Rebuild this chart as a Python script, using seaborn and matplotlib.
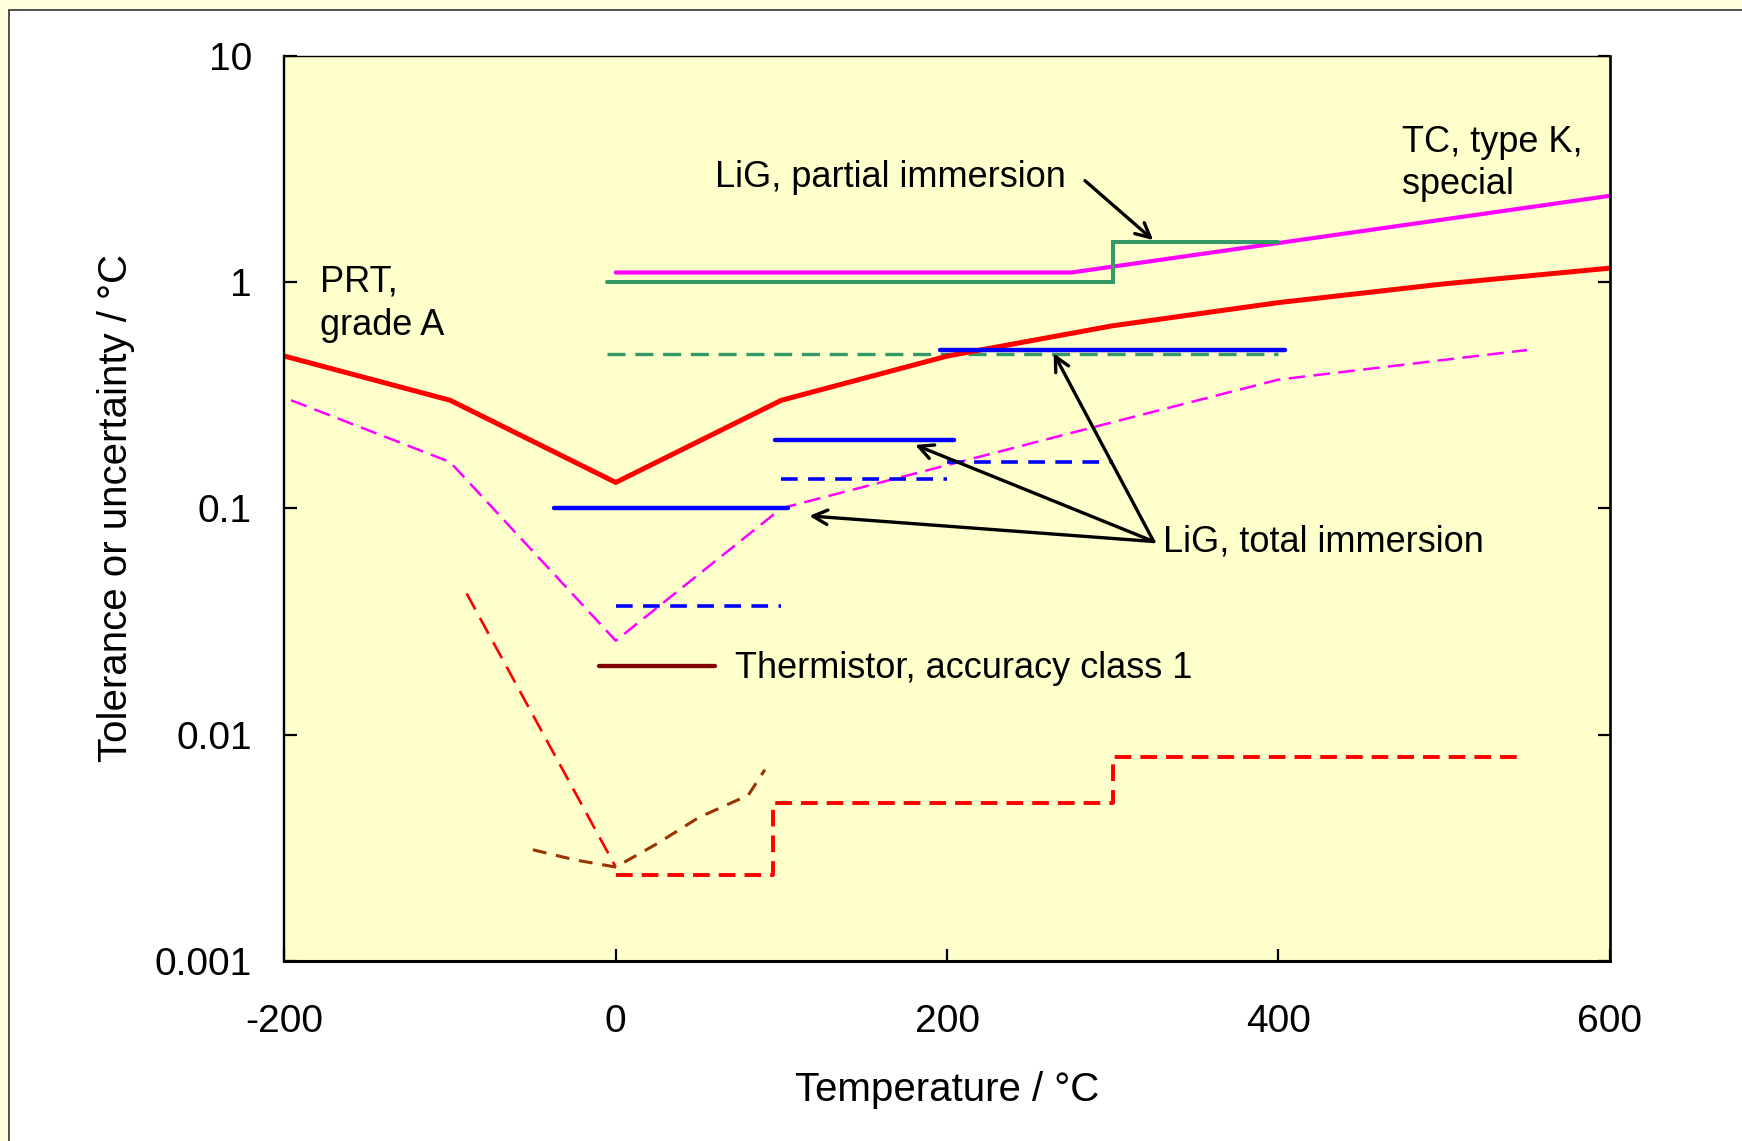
import matplotlib
matplotlib.use("Agg")
import matplotlib.pyplot as plt
import seaborn as sns
import pandas as pd
from matplotlib.patches import Rectangle
from matplotlib.ticker import FixedLocator, FixedFormatter, NullLocator

# ---------------- data ----------------
prt_t = [-200, -100, 0, 100, 200, 300, 400, 500, 600]
prt_tol = [0.47, 0.30, 0.13, 0.30, 0.47, 0.64, 0.81, 0.98, 1.15]

prt_unc_t = [-90, 0]
prt_unc = [0.042, 0.0026]
prt_cal_t = [0, 95, 95, 300, 300, 548]
prt_cal = [0.0024, 0.0024, 0.005, 0.005, 0.008, 0.008]

tc_t = [0, 275, 600]
tc_tol = [1.1, 1.1, 2.4]
tc_unc_t = [-196, -100, 0, 100, 200, 300, 400, 550]
tc_unc = [0.30, 0.16, 0.026, 0.10, 0.155, 0.24, 0.37, 0.50]

lig_part_t = [-5, 300, 300, 400]
lig_part_tol = [1.0, 1.0, 1.5, 1.5]
lig_part_unc_t = [-5, 400]
lig_part_unc = [0.48, 0.48]

lig_tot_start = [-37, 96, 196]
lig_tot_end = [104, 204, 404]
lig_tot_tol = [0.1, 0.2, 0.5]
lig_tot_unc_start = [0, 100, 200]
lig_tot_unc_end = [100, 200, 300]
lig_tot_unc = [0.037, 0.135, 0.16]

therm_t = [-10, 60]
therm_tol = [0.02, 0.02]
therm_unc_t = [-50, -25, 0, 25, 50, 80, 90]
therm_unc = [0.0031, 0.0028, 0.0026, 0.0033, 0.0043, 0.0054, 0.0070]

x_ticks = [-200, 0, 200, 400, 600]
x_tick_labels = ["-200", "0", "200", "400", "600"]
y_ticks = [0.001, 0.01, 0.1, 1, 10]
y_tick_labels = ["0.001", "0.01", "0.1", "1", "10"]

# ---------------- style ----------------
sns.set_theme(style="ticks")
plt.rcParams["font.family"] = ["Liberation Sans", "DejaVu Sans"]
plt.rcParams["lines.scale_dashes"] = False
plt.rcParams["text.color"] = "black"
plt.rcParams["axes.labelcolor"] = "black"
plt.rcParams["xtick.color"] = "black"
plt.rcParams["ytick.color"] = "black"

fig = plt.figure(figsize=(17.42, 11.41), dpi=100)
fig.patch.set_facecolor("#FFFFDD")
frame = Rectangle((9 / 1742, -0.1), 1.2, 1 - 10 / 1141 + 0.1,
                  transform=fig.transFigure, facecolor="white",
                  edgecolor="#333333", linewidth=1.2, zorder=-10)
fig.add_artist(frame)

ax = fig.add_axes([284.4 / 1742, 1 - 961 / 1141,
                   (1609.8 - 284.4) / 1742, (961 - 55.5) / 1141])
ax.set_facecolor("#FFFFCC")


def draw(x, y, color, lw, dashes=None, cap="round"):
    df = pd.DataFrame({"t": x, "v": y})
    sns.lineplot(data=df, x="t", y="v", sort=False, estimator=None,
                 color=color, linewidth=lw, ax=ax)
    line = ax.lines[-1]
    if dashes is not None:
        line.set_dashes(dashes)
        line.set_dash_capstyle("butt")
    else:
        line.set_solid_capstyle(cap)
        line.set_solid_joinstyle("miter")
    return line


# uncertainties (dashed)
draw(tc_unc_t, tc_unc, "#FF00FF", 1.8, dashes=(12, 6))
draw(prt_unc_t, prt_unc, "#FF0000", 1.9, dashes=(13, 7))
draw(prt_cal_t, prt_cal, "#FF0000", 2.8, dashes=(12, 6.5))
draw(therm_unc_t, therm_unc, "#993300", 2.2, dashes=(10, 7))
draw(lig_part_unc_t, lig_part_unc, "#339966", 2.4, dashes=(13, 7))
for a, b, v in zip(lig_tot_unc_start, lig_tot_unc_end, lig_tot_unc):
    draw([a, b], [v, v], "#0000FF", 2.6, dashes=(12, 7.5))

# tolerances (solid)
draw(prt_t, prt_tol, "#FF0000", 3.6, cap="butt")
draw(tc_t, tc_tol, "#FF00FF", 3.0)
draw(lig_part_t, lig_part_tol, "#339966", 2.9)
for a, b, v in zip(lig_tot_start, lig_tot_end, lig_tot_tol):
    draw([a, b], [v, v], "#0000FF", 3.2)
draw(therm_t, therm_tol, "#800000", 3.1)

# axes
ax.set_yscale("log")
ax.set_xlim(-200, 600)
ax.set_ylim(0.001, 10)
ax.xaxis.set_major_locator(FixedLocator(x_ticks))
ax.xaxis.set_major_formatter(FixedFormatter(x_tick_labels))
ax.yaxis.set_major_locator(FixedLocator(y_ticks))
ax.yaxis.set_major_formatter(FixedFormatter(y_tick_labels))
ax.yaxis.set_minor_locator(NullLocator())
ax.xaxis.set_minor_locator(NullLocator())
ax.tick_params(axis="both", which="major", direction="in", length=9,
               width=1.6, color="black", labelsize=28, labelcolor="black")
ax.tick_params(axis="y", right=True, left=True, pad=23.5)
ax.tick_params(axis="x", top=False, bottom=True, pad=31)
for side, w in [("left", 1.7), ("bottom", 2.2), ("right", 1.9), ("top", 1.0)]:
    ax.spines[side].set_visible(True)
    ax.spines[side].set_color("black")
    ax.spines[side].set_linewidth(w)

ax.set_xlabel("Temperature / °C", fontsize=29, color="black", labelpad=22)
ax.set_ylabel("Tolerance or uncertainty / °C", fontsize=29, color="black",
              labelpad=14)

# annotations
fs = 26
kw = dict(fontsize=fs, va="baseline", ha="left", color="black")
ax.text(-178.5, 0.906, "PRT,", **kw)
ax.text(-178.5, 0.583, "grade A", **kw)
ax.text(474.5, 3.76, "TC, type K,", **kw)
ax.text(474.5, 2.435, "special", **kw)
ax.text(60.2, 2.62, "LiG, partial immersion", **kw)
ax.text(330.2, 0.0644, "LiG, total immersion", **kw)
ax.text(72.2, 0.01777, "Thermistor, accuracy class 1", **kw)

arrow = dict(arrowstyle="->", lw=2.4, color="black", shrinkA=0, shrinkB=0,
             mutation_scale=26)
ax.annotate("", xy=(324.4, 1.53), xytext=(283.2, 2.80), arrowprops=arrow)
start = (324.7, 0.0713)
for tip in [(116.8, 0.0925), (180.7, 0.1905), (264.3, 0.484)]:
    ax.annotate("", xy=tip, xytext=start, arrowprops=arrow)

fig.savefig("out.png", dpi=100, facecolor=fig.get_facecolor())
